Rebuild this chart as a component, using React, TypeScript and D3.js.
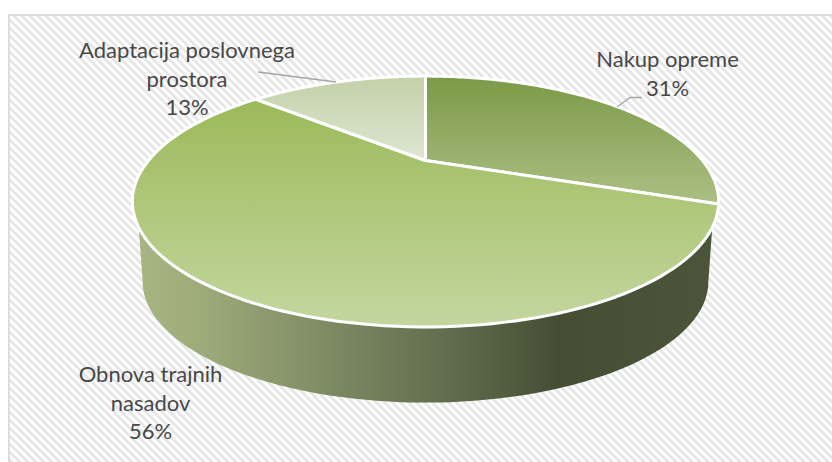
import React from "react";
import * as d3 from "d3";

const categories = ["Nakup opreme", "Obnova trajnih nasadov", "Adaptacija poslovnega prostora"];
const shares = [30.6, 56, 13.4];
const labelLines = [["Nakup opreme", "31%"], ["Obnova trajnih", "nasadov", "56%"], ["Adaptacija poslovnega", "prostora", "13%"]];
const labelAnchors = [[667.5, 67], [150.5, 382], [187, 58]];
const sliceColors = [["#7b9a47", "#adbf85"], ["#9bba5a", "#c4d69f"], ["#c3d1a8", "#dee6d2"]];

const W = 832, H = 462;
const cx = 425.5, cy = 160.5, ax = 277, ay = 112, k = 0.327;
const depthY = 81.5, depthS = 0.965;

const proj = (t: number, s = 1, dy = 0): [number, number] => {
  const u = Math.sin(t), v = -Math.cos(t), w = 1 - k * v;
  return [cx + (s * ax * u) / w, cy + dy + (s * ay * v) / w];
};
const curve = (a: number, b: number, s = 1, dy = 0) =>
  d3.range(0, 121).map((i) => proj(a + ((b - a) * i) / 120, s, dy));
const line = d3.line();

export default function App() {
  const arcs = d3.pie<number>().sort(null)(shares);
  const tangent = Math.acos(-k);
  const startWall = Math.acos(-0.5);
  const wall = [
    ...curve(startWall, 2 * Math.PI - startWall),
    ...curve(2 * Math.PI - tangent, tangent, depthS, depthY),
  ];
  return (
    <svg width={W} height={H} style={{ position: "absolute", left: 0, top: 0 }} fontFamily="Lato, sans-serif">
      <defs>
        <pattern id="stripes" width="5.66" height="5.66" patternUnits="userSpaceOnUse" patternTransform="rotate(45)">
          <rect width="5.66" height="5.66" fill="#ffffff" />
          <rect width="5.66" height="2.83" fill="#e6e6e6" />
        </pattern>
        <linearGradient id="wallGrad" gradientUnits="userSpaceOnUse" x1="132" x2="718" y1="0" y2="0">
          <stop offset="0" stopColor="#a8b584" />
          <stop offset="0.1" stopColor="#a0ad7b" />
          <stop offset="0.5" stopColor="#677253" />
          <stop offset="0.73" stopColor="#454e33" />
          <stop offset="1" stopColor="#4c5539" />
        </linearGradient>
        {arcs.map((d, i) => {
          const pts = curve(d.startAngle, d.endAngle).concat([[cx, cy]]);
          const ys = pts.map((p) => p[1]);
          return (
            <linearGradient key={i} id={`slice${i}`} gradientUnits="userSpaceOnUse" x1="0" x2="0" y1={d3.min(ys)} y2={d3.max(ys)}>
              <stop offset="0" stopColor={sliceColors[i][0]} />
              <stop offset="1" stopColor={sliceColors[i][1]} />
            </linearGradient>
          );
        })}
      </defs>
      <rect x={9} y={15} width={W} height={H} fill="url(#stripes)" stroke="#dcdcdc" strokeWidth={2} />
      <path d={line(wall as [number, number][]) + "Z"} fill="url(#wallGrad)" />
      {arcs.map((d, i) => (
        <path
          key={categories[i]}
          d={line([[cx, cy], ...curve(d.startAngle, d.endAngle)] as [number, number][]) + "Z"}
          fill={`url(#slice${i})`}
          stroke="#ffffff"
          strokeWidth={3}
          strokeLinejoin="round"
        />
      ))}
      <path d="M258,72L336,82" fill="none" stroke="#a6a6a6" strokeWidth={1.3} />
      <path d="M617,107L630,97.5L642,97.5" fill="none" stroke="#a6a6a6" strokeWidth={1.3} />
      {labelLines.map((ls, i) => (
        <text key={i} textAnchor="middle" fontSize={22} fill="#484848">
          {ls.map((t, j) => (
            <tspan key={j} x={labelAnchors[i][0]} y={labelAnchors[i][1] + j * 28.7}>{t}</tspan>
          ))}
        </text>
      ))}
    </svg>
  );
}
